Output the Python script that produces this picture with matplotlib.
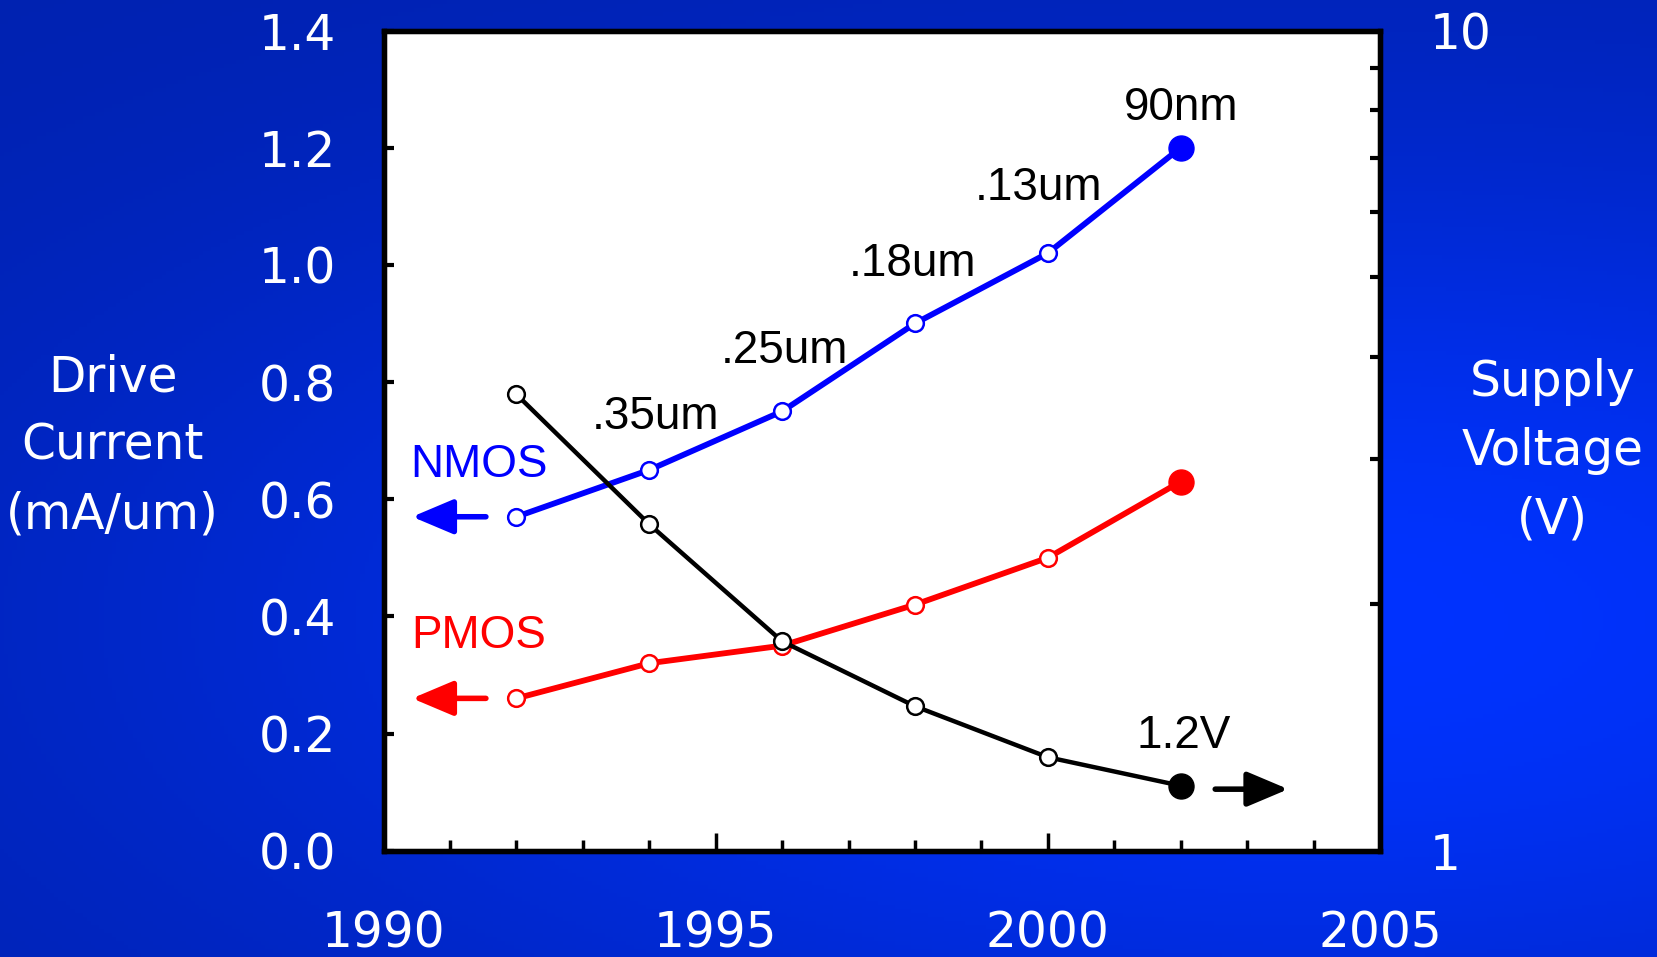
import numpy as np
import matplotlib
matplotlib.use("Agg")
import matplotlib.pyplot as plt

# technology generations
years = [1992, 1994, 1996, 1998, 2000, 2002]
nmos = [0.57, 0.65, 0.75, 0.90, 1.02, 1.20]      # mA/um
pmos = [0.26, 0.32, 0.35, 0.42, 0.50, 0.63]      # mA/um
vdd = [3.6, 2.5, 1.8, 1.5, 1.3, 1.2]             # V

nodes = [".35um", ".25um", ".18um", ".13um", "90nm"]
vdd_label = "1.2V"

plt.rcParams['font.family'] = ['DejaVu Sans']
narrow = ['Liberation Sans Narrow', 'Liberation Sans']

fig = plt.figure(figsize=(16.57, 9.57), dpi=100)

# blue slide background
bg = fig.add_axes([0, 0, 1, 1], zorder=-10)
gx, gy = np.meshgrid(np.linspace(0, 1, 400), np.linspace(0, 1, 240))
spot = np.exp(-(((gx - 0.8) / 0.7) ** 2 + ((gy - 0.35) / 0.5) ** 2))
img = np.dstack([np.zeros_like(gx), 0.13 + 0.07 * spot, 0.68 + 0.32 * spot])
bg.imshow(img, extent=[0, 1, 0, 1], origin='lower', aspect='auto')
bg.axis('off')

ax = fig.add_axes([0.2315, 0.1111, 0.6013, 0.857])
ax.set_facecolor('white')
ax.set_xlim(1990, 2005)
ax.set_ylim(0, 1.4)

sw = 3.8
for s in ax.spines.values():
    s.set_linewidth(sw)

# drive current curves
for vals, col in [(nmos, 'blue'), (pmos, 'red')]:
    ax.plot(years, vals, color=col, lw=4.2, marker='o', ms=12,
            mfc='white', mec=col, mew=1.8, markevery=list(range(len(years) - 1)),
            zorder=3)
    ax.plot(years[-1], vals[-1], 'o', color=col, ms=18, zorder=4)

ax.set_xticks([1990, 1995, 2000, 2005])
ax.set_xticks(range(1991, 2005), minor=True)
ax.set_yticks(np.arange(0, 1.41, 0.2))
ax.set_yticklabels(['%.1f' % v for v in np.arange(0, 1.41, 0.2)])
ax.tick_params(axis='x', which='major', direction='in', length=13, width=2.5,
               labelsize=35, labelcolor='white', pad=42, top=False)
ax.tick_params(axis='x', which='minor', direction='in', length=8, width=2.5, top=False)
ax.tick_params(axis='y', direction='in', length=7, width=3, labelsize=35,
               labelcolor='white', pad=34, right=False)

# supply voltage on log axis
ax2 = ax.twinx()
ax2.set_yscale('log')
ax2.set_ylim(1, 10)
ax2.plot(years, vdd, color='black', lw=3.2, marker='o', ms=12, mfc='white',
         mec='black', mew=1.8, markevery=list(range(len(years) - 1)), zorder=5)
ax2.plot(years[-1], vdd[-1], 'o', color='black', ms=18, zorder=6)
ax2.set_yticks([1, 10])
ax2.set_yticklabels(['1', '10'])
ax2.tick_params(axis='y', which='major', direction='in', length=0, labelsize=35,
                labelcolor='white', pad=36)
ax2.tick_params(axis='y', which='minor', direction='in', length=7, width=3)
ax2.yaxis.set_minor_formatter(matplotlib.ticker.NullFormatter())
for s in ax2.spines.values():
    s.set_linewidth(sw)

# node labels along the NMOS curve
node_xy = [(1994.09, 0.740), (1996.04, 0.853), (1997.97, 1.001),
           (1999.86, 1.131), (2002.0, 1.268)]
for name, (x, y) in zip(nodes, node_xy):
    ax.text(x, y, name, ha='center', va='center', fontsize=33, family=narrow,
            color='black', zorder=7)
ax.text(2002.04, 0.195, vdd_label, ha='center', va='center', fontsize=33,
        family=narrow, color='black', zorder=7)

ax.text(1991.43, 0.658, 'NMOS', ha='center', va='center', fontsize=33,
        family=narrow, color='blue')
ax.text(1991.43, 0.366, 'PMOS', ha='center', va='center', fontsize=33,
        family=narrow, color='red')

# arrows pointing to each curve's axis
arrow = dict(arrowstyle='-|>,head_length=0.9,head_width=0.38', lw=4,
             mutation_scale=28, shrinkA=0, shrinkB=0)
ax.annotate('', xy=(1990.43, nmos[0]), xytext=(1991.54, nmos[0]),
            arrowprops=dict(arrow, color='blue'))
ax.annotate('', xy=(1990.43, pmos[0]), xytext=(1991.54, pmos[0]),
            arrowprops=dict(arrow, color='red'))
ax.annotate('', xy=(2003.62, 0.105), xytext=(2002.52, 0.105),
            arrowprops=dict(arrow, color='black'), zorder=8)

fig.text(0.068, 0.534, 'Drive\nCurrent\n(mA/um)', ha='center', va='center',
         fontsize=35, color='white', linespacing=1.55)
fig.text(0.937, 0.529, 'Supply\nVoltage\n(V)', ha='center', va='center',
         fontsize=35, color='white', linespacing=1.55)

fig.savefig('out.png', dpi=100)
